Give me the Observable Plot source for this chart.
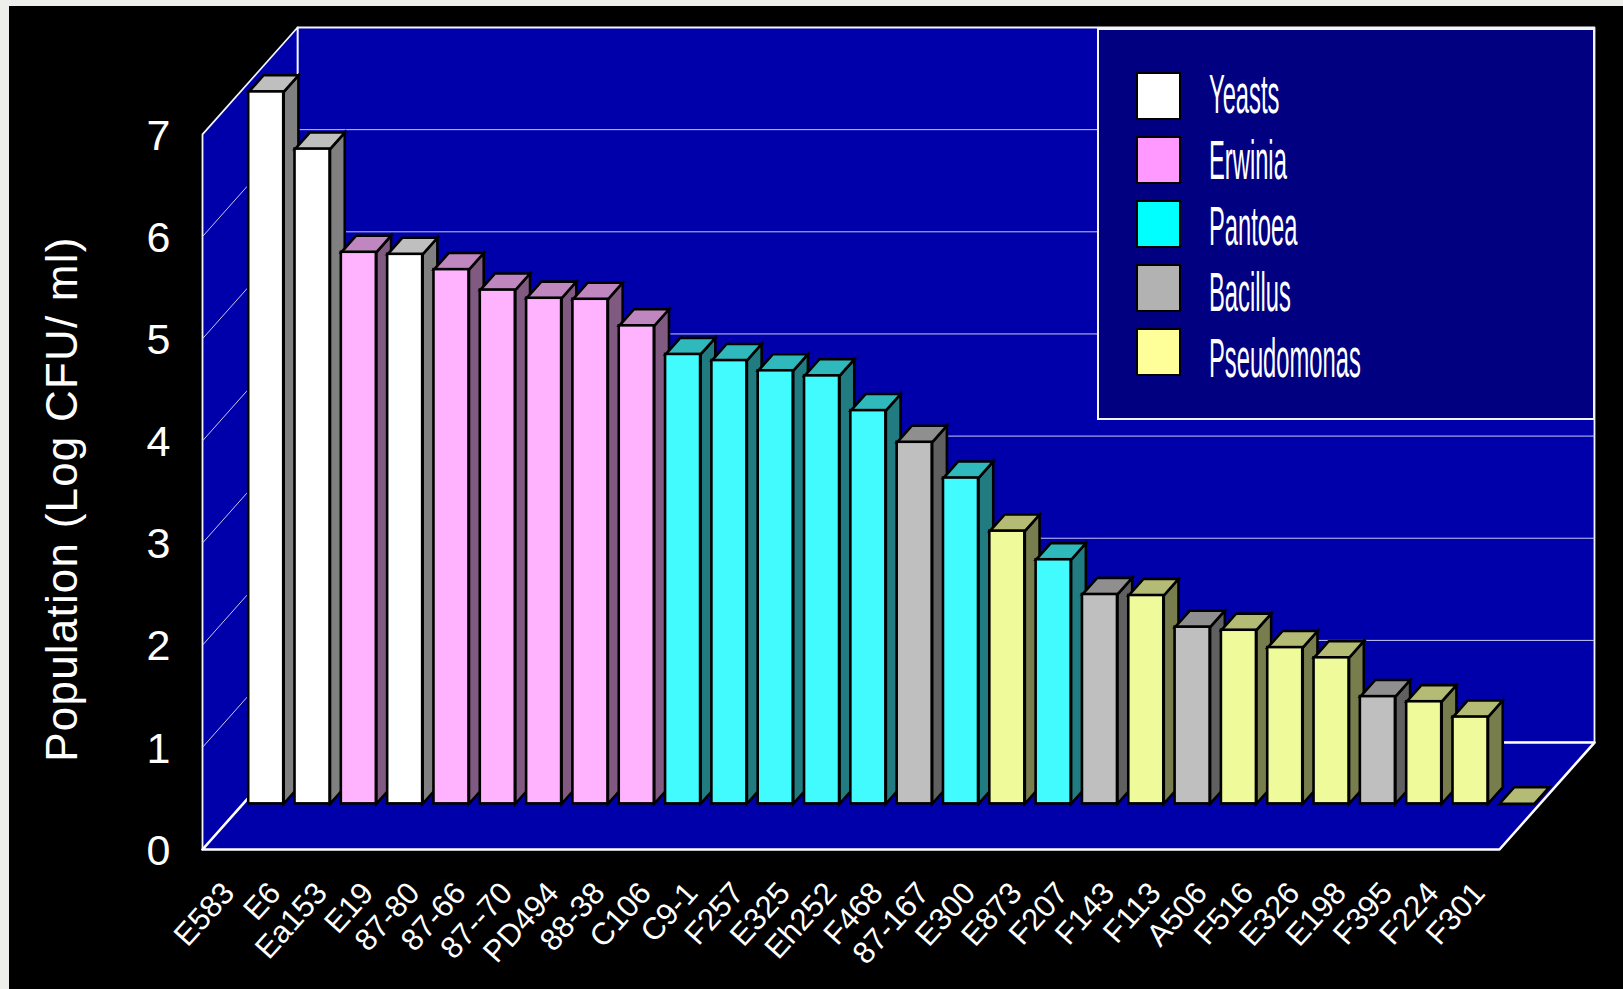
<!DOCTYPE html>
<html>
<head>
<meta charset="utf-8">
<title>Population by strain</title>
<script src="https://cdn.jsdelivr.net/npm/d3@7"></script>
<script src="https://cdn.jsdelivr.net/npm/@observablehq/plot@0.6"></script>
<style>
  html, body { margin: 0; padding: 0; background: #eeeeea; overflow: hidden; }
  #stage { position: absolute; left: 9px; top: 6px; width: 1614px; height: 983px; background: #000; }
  #stage svg { display: block; }
  #legend {
    position: absolute; left: 1088px; top: 22px; width: 498px; height: 392px;
    box-sizing: border-box; background: #000080; border: 2px solid #f4f4ff;
    font-family: "Liberation Sans", Arial, sans-serif; color: #fff;
  }
  #legend .swatch { position: absolute; left: 37px; width: 45px; height: 48px; box-sizing: border-box; border: 2.5px solid #000; }
  #legend .name {
    position: absolute; left: 110px; font-size: 56px; line-height: 56px; white-space: nowrap;
    transform: scaleX(0.424); transform-origin: 0 0;
  }
</style>
</head>
<body>
<div id="stage"></div>
<script>
// Population of each strain, log CFU per ml.
const strains = ["E583", "E6", "Ea153", "E19", "87-80", "87-66", "87--70", "PD494", "88-38", "C106",
  "C9-1", "F257", "E325", "Eh252", "F468", "87-167", "E300", "E873", "F207", "F143",
  "F113", "A506", "F516", "E326", "E198", "F395", "F224", "F301"];
const population = [6.97, 6.41, 5.40, 5.38, 5.23, 5.03, 4.95, 4.94, 4.68, 4.40,
  4.34, 4.24, 4.19, 3.85, 3.54, 3.19, 2.67, 2.39, 2.05, 2.04,
  1.73, 1.70, 1.53, 1.43, 1.05, 1.00, 0.85, 0];
const genus = ["Yeasts", "Yeasts", "Erwinia", "Yeasts", "Erwinia", "Erwinia", "Erwinia", "Erwinia", "Erwinia", "Pantoea",
  "Pantoea", "Pantoea", "Pantoea", "Pantoea", "Bacillus", "Pantoea", "Pseudomonas", "Pantoea", "Bacillus", "Pseudomonas",
  "Bacillus", "Pseudomonas", "Pseudomonas", "Pseudomonas", "Bacillus", "Pseudomonas", "Pseudomonas", "Pseudomonas"];

// Legend entries and bar shades per genus.
const legendNames = ["Yeasts", "Erwinia", "Pantoea", "Bacillus", "Pseudomonas"];
const legendColors = ["#ffffff", "#ff99ff", "#00ffff", "#b2b2b2", "#ffff99"];
const frontColors = ["#ffffff", "#ffb3ff", "#42fbff", "#bfbfbf", "#effa9b"];
const topColors = ["#bfbfbf", "#bf86bf", "#30b9bd", "#8f8f8f", "#b3bb74"];
const sideColors = ["#808080", "#805a80", "#207c80", "#606060", "#787d4e"];
const yTicks = [0, 1, 2, 3, 4, 5, 6, 7];

// Oblique projection: a full step into the chart moves this far in data units.
const depthX = 2.052, depthY = 1.047;
const slots = strains.length, yTop = 7;
const project = (x, y, z) => ({x: x + z * depthX, y: y + z * depthY});

// Bars stand midway across the floor.
const barDepth = 0.155, barZ = 0.4265, barGap = 0.122;

const shade = (colors, g) => colors[legendNames.indexOf(g)];
const polygons = [];
const addPolygon = (id, kind, fill, corners) =>
  corners.forEach((c) => polygons.push({id, kind, fill, ...c}));

const bars = strains.map((name, i) => {
  const v = population[i], g = genus[i];
  const x1 = i + barGap, x2 = i + 1 - barGap;
  addPolygon(`side-${i}`, "side", shade(sideColors, g), [
    project(x2, 0, barZ), project(x2, v, barZ), project(x2, v, barZ + barDepth), project(x2, 0, barZ + barDepth)
  ]);
  addPolygon(`top-${i}`, "top", shade(topColors, g), [
    project(x1, v, barZ), project(x2, v, barZ), project(x2, v, barZ + barDepth), project(x1, v, barZ + barDepth)
  ]);
  const a = project(x1, 0, barZ), b = project(x2, v, barZ);
  return {name, x1: a.x, x2: b.x, y1: a.y, y2: b.y, fill: shade(frontColors, g)};
});

// Chart walls and floor.
const walls = [];
const addWall = (id, corners) => corners.forEach((c) => walls.push({id, ...c}));
addWall("back", [project(0, 0, 1), project(slots, 0, 1), project(slots, yTop, 1), project(0, yTop, 1)]);
addWall("left", [project(0, 0, 0), project(0, 0, 1), project(0, yTop, 1), project(0, yTop, 0)]);
addWall("floor", [project(0, 0, 0), project(slots, 0, 0), project(slots, 0, 1), project(0, 0, 1)]);

const grid = yTicks.slice(1, -1).flatMap((v) => {
  const p0 = project(0, v, 0), p1 = project(0, v, 1), p2 = project(slots, v, 1);
  return [{x1: p0.x, y1: p0.y, x2: p1.x, y2: p1.y}, {x1: p1.x, y1: p1.y, x2: p2.x, y2: p2.y}];
});

const barStroke = {stroke: "#000", strokeWidth: 2.6, curve: "linear-closed", strokeLinejoin: "miter", strokeMiterlimit: 6};

const chart = Plot.plot({
  width: 1614,
  height: 983,
  marginLeft: 193,
  marginRight: 29,
  marginTop: 21,
  marginBottom: 140,
  style: {background: "#000", color: "#fff", fontFamily: "'Liberation Sans', Arial, sans-serif"},
  x: {domain: [0, slots + depthX], label: null},
  y: {domain: [0, yTop + depthY], label: null},
  marks: [
    Plot.line(walls.filter((d) => d.id !== "floor"), {x: "x", y: "y", z: "id", fill: "#0000aa", stroke: "#f4f4ff", strokeWidth: 1.8, curve: "linear-closed"}),
    Plot.line(walls.filter((d) => d.id === "floor"), {x: "x", y: "y", z: "id", fill: "#0000aa", stroke: "#ffffff", strokeWidth: 2.6, curve: "linear-closed"}),
    Plot.link(grid, {x1: "x1", y1: "y1", x2: "x2", y2: "y2", stroke: "#c8c8f0", strokeWidth: 1}),
    Plot.line(polygons.filter((d) => d.kind === "side"), {x: "x", y: "y", z: "id", fill: "fill", ...barStroke}),
    Plot.line(polygons.filter((d) => d.kind === "top"), {x: "x", y: "y", z: "id", fill: "fill", ...barStroke}),
    Plot.rect(bars, {x1: "x1", x2: "x2", y1: "y1", y2: "y2", fill: "fill", stroke: "#000", strokeWidth: 2.6}),
    Plot.axisY({
      ticks: yTicks, tickSize: 0, tickPadding: 32, fontSize: 43, dy: 1.5, label: null, tickFormat: "d", color: "#fff"
    }),
    Plot.axisX({
      ticks: strains.map((_, i) => i + 0.5), tickFormat: (d) => strains[Math.floor(d)],
      tickRotate: -48, tickSize: 0, tickPadding: 38, dx: 3, fontSize: 31, label: null, color: "#fff"
    }),
    Plot.text(["Population (Log CFU/ ml)"], {
      frameAnchor: "left", y: [3.43], dx: -140, rotate: -90, textAnchor: "middle",
      fontSize: 44, fill: "#fff", text: (d) => d,
      render(index, scales, values, dimensions, context, next) {
        const g = next(index, scales, values, dimensions, context);
        g.querySelectorAll("text").forEach((t) => t.setAttribute("letter-spacing", "1.2"));
        return g;
      }
    })
  ]
});
document.getElementById("stage").append(chart);

// Legend panel over the back wall.
const legend = document.createElement("div");
legend.id = "legend";
legendNames.forEach((name, i) => {
  const swatch = document.createElement("div");
  swatch.className = "swatch";
  swatch.style.top = `${42 + i * 64}px`;
  swatch.style.background = legendColors[i];
  const label = document.createElement("div");
  label.className = "name";
  label.style.top = `${35.6 + i * 66}px`;
  label.textContent = name;
  legend.append(swatch, label);
});
document.getElementById("stage").append(legend);
</script>
</body>
</html>
